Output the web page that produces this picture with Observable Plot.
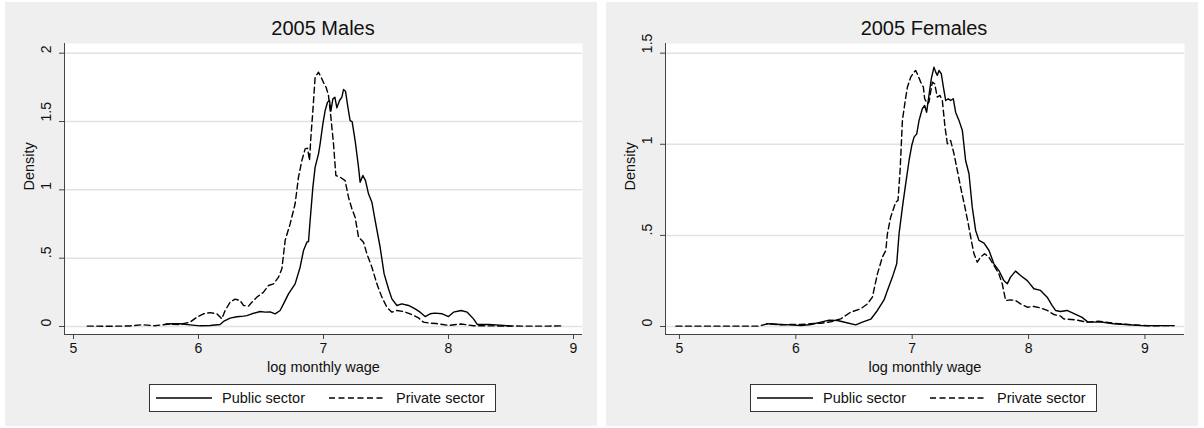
<!DOCTYPE html>
<html><head><meta charset="utf-8">
<script src="https://cdn.jsdelivr.net/npm/d3@7"></script>
<script src="https://cdn.jsdelivr.net/npm/@observablehq/plot@0.6"></script>
<style>
html,body{margin:0;padding:0;background:#fff;width:1204px;height:428px;overflow:hidden;font-family:"Liberation Sans",Arial,Helvetica,sans-serif;}
.panel{position:absolute;top:2px;width:592px;height:424px;background:#efefef;}
.title{position:absolute;left:59px;width:518px;top:16px;text-align:center;font-size:20px;line-height:20px;color:#111;}
.plot{position:absolute;left:0;top:38px;}
.legend{position:absolute;left:144px;top:382px;width:345px;height:26px;background:#fff;border:1px solid #333;}
.legend svg{position:absolute;top:0;}
.legend span{position:absolute;top:0;line-height:26px;font-size:14.5px;color:#111;white-space:nowrap;}
</style></head><body>
<div id="root"></div>
<script>
// ---------- data ----------
const panelTitles = ["2005 Males", "2005 Females"];
const seriesNames = ["Public sector", "Private sector"];
const xAxisTitle = "log monthly wage";
const yAxisTitle = "Density";
const xTicks = [5, 6, 7, 8, 9];
const xTickLabels = ["5", "6", "7", "8", "9"];
const maleYTicks = [0, 0.5, 1, 1.5, 2];
const maleYTickLabels = ["0", ".5", "1", "1.5", "2"];
const femaleYTicks = [0, 0.5, 1, 1.5];
const femaleYTickLabels = ["0", ".5", "1", "1.5"];

const malePublicX = [5.74,5.80,5.853,5.933,6.013,6.093,6.173,6.2,6.253,6.307,6.36,6.387,6.427,6.493,6.533,6.573,6.613,6.653,6.68,6.72,6.773,6.813,6.84,6.867,6.88,6.893,6.915,6.933,6.96,6.973,6.995,7.013,7.032,7.048,7.059,7.075,7.091,7.107,7.128,7.147,7.16,7.176,7.195,7.213,7.229,7.253,7.28,7.293,7.315,7.336,7.36,7.387,7.413,7.453,7.485,7.52,7.547,7.587,7.627,7.68,7.733,7.773,7.813,7.853,7.89,7.95,8.0,8.04,8.1,8.15,8.2,8.23,8.32,8.41,8.5];
const malePublicY = [0.018,0.02,0.02,0.012,0.005,0.007,0.015,0.037,0.061,0.071,0.076,0.080,0.093,0.110,0.105,0.107,0.093,0.117,0.166,0.239,0.312,0.434,0.556,0.617,0.622,0.776,1.02,1.166,1.263,1.337,1.483,1.58,1.641,1.654,1.576,1.666,1.678,1.6,1.654,1.678,1.734,1.722,1.605,1.507,1.5,1.361,1.166,1.056,1.105,1.068,0.971,0.91,0.776,0.58,0.385,0.276,0.202,0.154,0.166,0.154,0.129,0.105,0.073,0.093,0.098,0.093,0.073,0.105,0.117,0.105,0.056,0.015,0.015,0.01,0.003];

const malePrivateX = [5.11,5.3,5.45,5.55,5.65,5.75,5.853,5.933,5.987,6.04,6.093,6.147,6.187,6.213,6.253,6.293,6.333,6.36,6.4,6.427,6.467,6.52,6.56,6.6,6.64,6.667,6.693,6.733,6.773,6.8,6.827,6.853,6.872,6.888,6.899,6.915,6.933,6.96,6.987,7.005,7.021,7.04,7.059,7.08,7.099,7.133,7.173,7.2,7.227,7.253,7.28,7.32,7.347,7.387,7.427,7.467,7.507,7.547,7.587,7.64,7.693,7.76,7.8,7.853,7.9,8.0,8.1,8.2,8.4,8.6,8.8,8.92];
const malePrivateY = [0.003,0.002,0.004,0.013,0.006,0.016,0.015,0.032,0.068,0.093,0.102,0.093,0.056,0.117,0.178,0.2,0.19,0.154,0.149,0.178,0.215,0.251,0.3,0.312,0.361,0.422,0.629,0.751,0.898,1.093,1.215,1.3,1.305,1.215,1.385,1.58,1.824,1.861,1.812,1.776,1.751,1.69,1.532,1.337,1.105,1.093,1.068,0.946,0.861,0.8,0.654,0.617,0.532,0.434,0.312,0.215,0.141,0.105,0.117,0.11,0.093,0.063,0.032,0.024,0.022,0.008,0.018,0.006,0.004,0.003,0.003,0.005];

const femalePublicX = [5.75,5.871,5.957,6.043,6.129,6.215,6.286,6.358,6.429,6.515,6.572,6.644,6.701,6.758,6.787,6.83,6.867,6.887,6.916,6.944,6.973,6.996,7.016,7.039,7.059,7.087,7.107,7.124,7.144,7.164,7.187,7.202,7.216,7.23,7.25,7.268,7.288,7.31,7.33,7.353,7.373,7.402,7.431,7.459,7.488,7.516,7.545,7.574,7.617,7.66,7.702,7.745,7.788,7.817,7.845,7.888,7.931,7.989,8.046,8.103,8.16,8.203,8.232,8.275,8.33,8.40,8.46,8.51,8.63,8.73,8.83,8.97,9.1,9.25];
const femalePublicY = [0.015,0.011,0.009,0.005,0.011,0.024,0.035,0.033,0.022,0.009,0.024,0.04,0.088,0.146,0.198,0.271,0.344,0.509,0.655,0.783,0.911,0.993,1.039,1.057,1.131,1.195,1.213,1.176,1.268,1.359,1.423,1.396,1.378,1.405,1.387,1.314,1.24,1.25,1.24,1.25,1.176,1.131,1.076,0.911,0.838,0.655,0.527,0.472,0.457,0.417,0.344,0.307,0.252,0.234,0.271,0.304,0.28,0.252,0.207,0.198,0.161,0.115,0.088,0.082,0.088,0.068,0.05,0.024,0.024,0.015,0.011,0.005,0.005,0.005];

const femalePrivateX = [4.97,5.2,5.45,5.68,5.76,5.871,5.957,6.043,6.129,6.215,6.3,6.386,6.472,6.558,6.615,6.658,6.701,6.744,6.773,6.787,6.815,6.858,6.878,6.896,6.916,6.936,6.959,6.987,7.016,7.03,7.05,7.073,7.096,7.107,7.13,7.144,7.173,7.193,7.216,7.239,7.259,7.282,7.302,7.33,7.359,7.388,7.416,7.453,7.482,7.508,7.531,7.559,7.588,7.622,7.659,7.702,7.745,7.774,7.803,7.845,7.888,7.931,7.989,8.046,8.103,8.16,8.217,8.275,8.3,8.4,8.5,8.6,8.73,8.86,9.03,9.25];
const femalePrivateY = [0.002,0.002,0.002,0.002,0.015,0.009,0.011,0.011,0.015,0.018,0.026,0.042,0.079,0.097,0.124,0.161,0.289,0.381,0.417,0.509,0.6,0.682,0.692,0.856,1.131,1.222,1.314,1.368,1.396,1.405,1.378,1.341,1.314,1.25,1.222,1.231,1.341,1.332,1.259,1.268,1.24,1.094,1.003,1.021,0.948,0.856,0.765,0.655,0.563,0.472,0.399,0.353,0.381,0.399,0.381,0.335,0.289,0.234,0.143,0.146,0.143,0.124,0.106,0.11,0.102,0.088,0.066,0.057,0.042,0.037,0.024,0.029,0.018,0.011,0.004,0.005];

// ---------- layout ----------
const FONT = '"Liberation Sans", Arial, Helvetica, sans-serif';
const zipXY = (xs, ys) => xs.map((x, i) => ({x, y: ys[i]}));

const panels = [
  {left: 5, title: panelTitles[0], pub: zipXY(malePublicX, malePublicY), priv: zipXY(malePrivateX, malePrivateY),
   xDomain: [4.928, 9.072], yDomain: [-0.0585, 2.071], yTicks: maleYTicks, yLabels: maleYTickLabels, marginRight: 15},
  {left: 606, title: panelTitles[1], pub: zipXY(femalePublicX, femalePublicY), priv: zipXY(femalePrivateX, femalePrivateY),
   xDomain: [4.88, 9.34], yDomain: [-0.0439, 1.553], yTicks: femaleYTicks, yLabels: femaleYTickLabels, marginRight: 14}
];

const root = document.getElementById("root");
const DASH = "6,3.5";

function sample(dashed) {
  const ns = "http://www.w3.org/2000/svg";
  const s = document.createElementNS(ns, "svg");
  s.setAttribute("width", 56); s.setAttribute("height", 26);
  const l = document.createElementNS(ns, "line");
  l.setAttribute("x1", 0); l.setAttribute("x2", 56);
  l.setAttribute("y1", 13); l.setAttribute("y2", 13);
  l.setAttribute("stroke", "#000"); l.setAttribute("stroke-width", 1.4);
  if (dashed) l.setAttribute("stroke-dasharray", DASH);
  s.appendChild(l);
  return s;
}

for (const p of panels) {
  const panel = document.createElement("div");
  panel.className = "panel";
  panel.style.left = p.left + "px";

  const t = document.createElement("div");
  t.className = "title";
  t.textContent = p.title;
  panel.appendChild(t);

  const chart = Plot.plot({
    width: 592, height: 338,
    marginTop: 3, marginBottom: 44, marginLeft: 59, marginRight: p.marginRight,
    style: {background: "transparent", fontFamily: FONT, color: "#111", overflow: "visible"},
    x: {type: "linear", domain: p.xDomain},
    y: {type: "linear", domain: p.yDomain},
    marks: [
      Plot.frame({fill: "white", stroke: "none"}),
      Plot.gridY(p.yTicks, {stroke: "#e2e2e2", strokeOpacity: 1, strokeWidth: 1.5}),
      Plot.line(p.pub, {x: "x", y: "y", stroke: "#000", strokeWidth: 1.4}),
      Plot.line(p.priv, {x: "x", y: "y", stroke: "#000", strokeWidth: 1.4, strokeDasharray: DASH}),
      Plot.ruleX([p.xDomain[0]], {stroke: "#444"}),
      Plot.ruleY([p.yDomain[0]], {stroke: "#444"}),
      Plot.axisX(xTicks, {tickSize: 5, tickPadding: 4, fontSize: 14, stroke: "#444", label: null,
        tickFormat: d => xTickLabels[xTicks.indexOf(d)]}),
      Plot.axisY(p.yTicks, {tickSize: 5, stroke: "#444", label: null, tickFormat: () => ""}),
      Plot.text(p.yTicks, {y: d => d, text: (d, i) => p.yLabels[i], frameAnchor: "left", rotate: -90, dx: -18, fontSize: 14}),
      Plot.text([xAxisTitle], {text: d => d, frameAnchor: "bottom", dy: 33, fontSize: 14.5, lineAnchor: "middle"}),
      Plot.text([yAxisTitle], {text: d => d, frameAnchor: "left", dx: -35, dy: 1.5, rotate: -90, fontSize: 14.5})
    ]
  });
  const wrap = document.createElement("div");
  wrap.className = "plot";
  wrap.appendChild(chart);
  panel.appendChild(wrap);

  const lg = document.createElement("div");
  lg.className = "legend";
  const s1 = sample(false); s1.style.left = "6px"; lg.appendChild(s1);
  const t1 = document.createElement("span"); t1.textContent = seriesNames[0]; t1.style.left = "72px"; lg.appendChild(t1);
  const s2 = sample(true); s2.style.left = "179px"; lg.appendChild(s2);
  const t2 = document.createElement("span"); t2.textContent = seriesNames[1]; t2.style.left = "246px"; lg.appendChild(t2);
  panel.appendChild(lg);

  root.appendChild(panel);
}
</script>
</body></html>
